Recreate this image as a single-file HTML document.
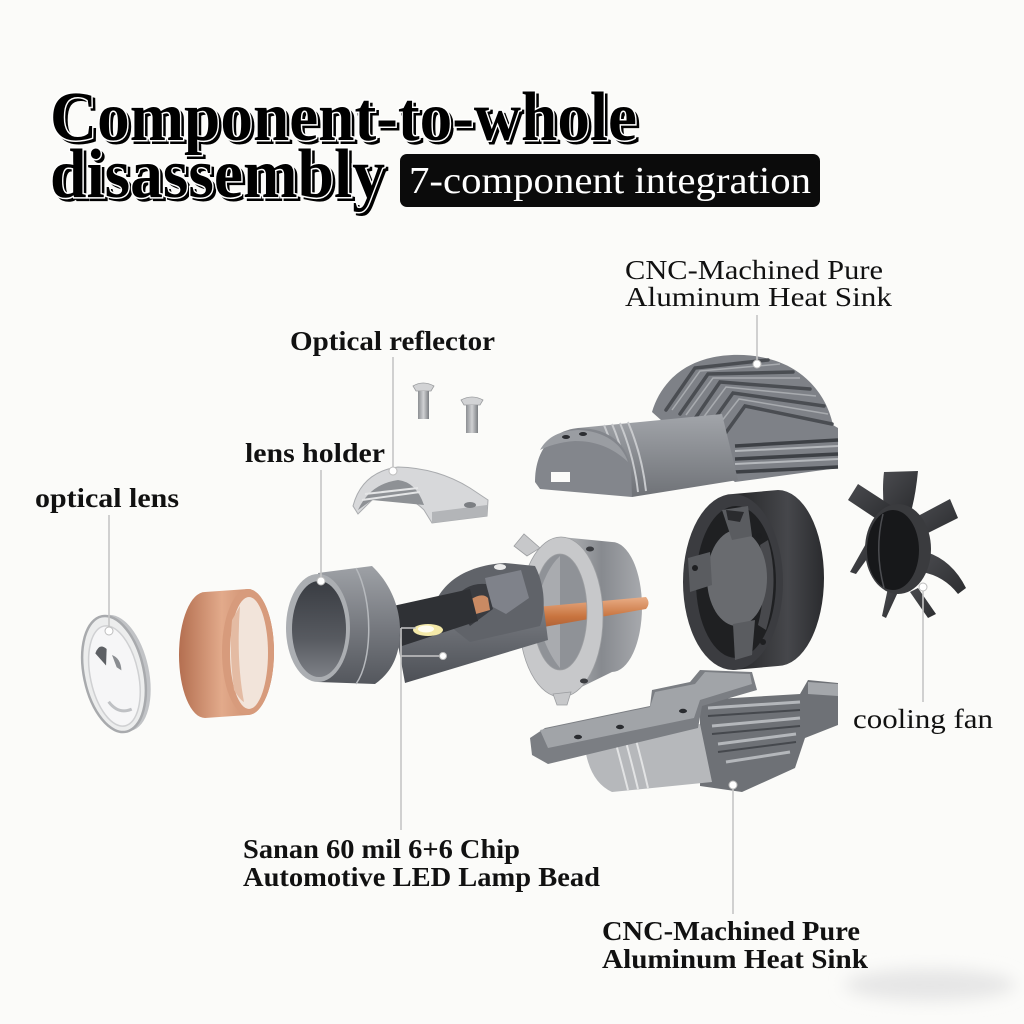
<!DOCTYPE html>
<html><head><meta charset="utf-8">
<style>
html,body{margin:0;padding:0;background:#fbfbf9;}
svg{display:block;}
text{font-family:"Liberation Serif","DejaVu Serif",serif;}
</style></head><body>
<svg width="1024" height="1024" viewBox="0 0 1024 1024" xmlns="http://www.w3.org/2000/svg">
<defs>
 <linearGradient id="cu" x1="0" y1="0" x2="1" y2="0">
  <stop offset="0" stop-color="#b46f50"/><stop offset="0.45" stop-color="#e2aa8b"/><stop offset="1" stop-color="#c07d5d"/>
 </linearGradient>
 <linearGradient id="cuv" x1="0" y1="0" x2="0" y2="1">
  <stop offset="0" stop-color="#e9ad86"/><stop offset="0.5" stop-color="#c8743f"/><stop offset="1" stop-color="#9c5330"/>
 </linearGradient>
 <linearGradient id="gv" x1="0" y1="0" x2="0" y2="1">
  <stop offset="0" stop-color="#8f9298"/><stop offset="0.5" stop-color="#6c6f75"/><stop offset="1" stop-color="#4d5056"/>
 </linearGradient>
 <linearGradient id="gh" x1="0" y1="0" x2="0" y2="1">
  <stop offset="0" stop-color="#9ea1a6"/><stop offset="0.55" stop-color="#74777d"/><stop offset="1" stop-color="#54575d"/>
 </linearGradient>
 <linearGradient id="din" x1="0" y1="0" x2="0" y2="1">
  <stop offset="0" stop-color="#393c42"/><stop offset="0.6" stop-color="#575a60"/><stop offset="1" stop-color="#7d8086"/>
 </linearGradient>
 <linearGradient id="ringb" x1="0" y1="0" x2="1" y2="0">
  <stop offset="0" stop-color="#b5b7ba"/><stop offset="0.5" stop-color="#878a8f"/><stop offset="1" stop-color="#a7a9ad"/>
 </linearGradient>
 <linearGradient id="hsb" x1="0" y1="0" x2="0" y2="1">
  <stop offset="0" stop-color="#a2a5aa"/><stop offset="1" stop-color="#6f7277"/>
 </linearGradient>
 <linearGradient id="fanside" x1="0" y1="0" x2="1" y2="0">
  <stop offset="0" stop-color="#252628"/><stop offset="0.6" stop-color="#46474b"/><stop offset="1" stop-color="#2a2b2e"/>
 </linearGradient>
 <linearGradient id="screw" x1="0" y1="0" x2="1" y2="0">
  <stop offset="0" stop-color="#8c8f93"/><stop offset="0.5" stop-color="#d0d1d3"/><stop offset="1" stop-color="#7b7e82"/>
 </linearGradient>
 <linearGradient id="blade" x1="0" y1="0" x2="1" y2="1">
  <stop offset="0" stop-color="#4a4b4f"/><stop offset="1" stop-color="#2c2d30"/>
 </linearGradient>
 <filter id="blur" x="-50%" y="-50%" width="200%" height="200%"><feGaussianBlur stdDeviation="8"/></filter>
</defs>

<rect width="1024" height="1024" fill="#fbfbf9"/>
<ellipse cx="930" cy="985" rx="85" ry="16" fill="#e6e6e6" filter="url(#blur)"/>

<!-- Title -->
<g font-weight="bold" font-size="70">
 <text x="53" y="143" fill="#000" stroke="#000" stroke-width="2" textLength="587" lengthAdjust="spacingAndGlyphs">Component-to-whole</text>
 <text x="50" y="140" fill="#000" stroke="#fff" stroke-width="3" paint-order="stroke" textLength="587" lengthAdjust="spacingAndGlyphs">Component-to-whole</text>
 <text x="53" y="200" fill="#000" stroke="#000" stroke-width="2" textLength="335" lengthAdjust="spacingAndGlyphs">disassembly</text>
 <text x="50" y="197" fill="#000" stroke="#fff" stroke-width="3" paint-order="stroke" textLength="335" lengthAdjust="spacingAndGlyphs">disassembly</text>
</g>
<rect x="400" y="154" width="420" height="53" rx="7" fill="#0b0b0b"/>
<text x="409" y="193" font-size="38" fill="#fff" textLength="402" lengthAdjust="spacingAndGlyphs">7-component integration</text>

<!-- Upper heat sink -->
<g>
 <path d="M652 412 C660 385 680 365 710 358 C735 352 770 354 795 370 C815 383 828 402 833 425 L838 428 L838 468 L735 482 L700 455 Z" fill="#7e8187"/>
 <g stroke="#4a4d52" stroke-width="3.5" fill="none" stroke-linecap="round">
  <path d="M666 410 L695 368 L768 360"/>
  <path d="M680 414 L708 374 L793 372"/>
  <path d="M694 420 L720 382 L810 389"/>
  <path d="M708 428 L733 393 L824 406"/>
  <path d="M722 438 L745 406 L832 424"/>
 </g>
 <g stroke="#a8abaf" stroke-width="1.5" fill="none">
  <path d="M672 410 L700 371 L780 364"/>
  <path d="M686 415 L713 378 L800 378"/>
  <path d="M700 422 L726 387 L816 396"/>
  <path d="M714 431 L739 399 L828 414"/>
 </g>
 <g stroke="#3d4045" stroke-width="3.5" fill="none">
  <path d="M735 446 L838 440"/>
  <path d="M735 459 L838 454"/>
  <path d="M735 472 L838 467"/>
 </g>
 <g stroke="#b5b8bc" stroke-width="2" fill="none">
  <path d="M735 451 L838 446"/>
  <path d="M735 464 L838 459"/>
 </g>
 <path d="M578 428 L722 414 L738 480 L632 497 Z" fill="url(#hsb)"/>
 <g stroke="#c8cacd" stroke-width="2" fill="none">
  <path d="M604 425 Q618 458 622 494"/>
  <path d="M612 424 Q626 457 630 493"/>
  <path d="M620 423 Q634 456 638 492"/>
  <path d="M628 422 Q642 455 646 491"/>
 </g>
 <path d="M535 482 C535 452 550 431 578 428 C610 428 628 445 631 470 L632 497 L540 489 Z" fill="#83868c"/>
 <path d="M540 450 C548 436 560 431 578 430 C605 431 622 444 628 462 C612 447 595 441 575 441 C560 442 548 446 540 450 Z" fill="#9a9da2"/>
 <rect x="551" y="472" width="19" height="10" fill="#fbfbf9"/>
 <ellipse cx="566" cy="437" rx="4" ry="2" fill="#2c2e32"/>
 <ellipse cx="583" cy="434" rx="4" ry="2" fill="#2c2e32"/>
</g>

<!-- Screws -->
<path d="M413 386 Q423 380 434 386 L431 391 L416 391 Z" fill="#d2d3d5" stroke="#9a9c9f" stroke-width="0.8"/>
<rect x="418" y="391" width="11" height="28" fill="url(#screw)"/>
<path d="M461 400 Q472 394 483 400 L480 405 L464 405 Z" fill="#d2d3d5" stroke="#9a9c9f" stroke-width="0.8"/>
<rect x="466" y="405" width="12" height="28" fill="url(#screw)"/>

<!-- Reflector -->
<path d="M353 506 Q362 472 398 467 Q438 468 470 488 L488 500 L487 516 L432 523 L424 510 Q402 488 372 500 L358 514 Z" fill="#d7d8da" stroke="#a9abae" stroke-width="1"/>
<path d="M358 510 Q370 484 398 480 Q416 482 424 505 L372 500 Z" fill="#8e9195"/>
<path d="M362 500 L420 492 M365 494 L418 488" stroke="#e4e5e6" stroke-width="2"/>
<path d="M432 512 L487 505 L487 516 L432 523 Z" fill="#b3b5b8"/>
<ellipse cx="470" cy="505" rx="6" ry="3" fill="#7c7f83"/>

<!-- Optical lens -->
<g transform="rotate(-12 114 674)">
 <ellipse cx="119" cy="674" rx="30" ry="59" fill="#c1c3c6"/>
 <ellipse cx="114" cy="674" rx="30" ry="59" fill="#eceded" stroke="#a8aaad" stroke-width="2.5"/>
 <ellipse cx="114" cy="676" rx="24" ry="51" fill="#f6f6f7" stroke="#cfd0d2" stroke-width="1.5"/>
 <path d="M100 650 Q106 640 112 648 L108 664 Z" fill="#5d6064"/>
 <path d="M116 655 Q124 660 122 672 L118 668 Z" fill="#8a8d91"/>
 <path d="M103 700 Q110 715 124 712" stroke="#bfc1c4" stroke-width="3" fill="none"/>
</g>

<!-- Copper ring -->
<path d="M205 592 L248 589 A26 63 0 0 1 248 715 L205 718 A26 63 0 0 1 205 592 Z" fill="url(#cu)"/>
<ellipse cx="248" cy="652" rx="26" ry="63" fill="#d79b7c"/>
<ellipse cx="249" cy="653" rx="19" ry="56" fill="#f2e4da"/>
<path d="M232 620 Q229 653 234 690 Q240 700 244 702 Q236 660 240 606 Z" fill="#e4bba3"/>

<!-- Twist lock ring -->
<path d="M561 537 L612 542 A30 65 0 0 1 612 672 L561 697 Z" fill="url(#ringb)"/>
<ellipse cx="560" cy="612" rx="27" ry="58" fill="#8f9297"/>
<path d="M538 600 Q545 570 560 556 L560 668 Q545 650 538 620 Z" fill="#a9abaf"/>
<path d="M482 612 L646 597 Q651 603 646 609 L492 636 Z" fill="url(#cuv)"/>
<path d="M527 556 L514 546 L524 534 L540 548 Z" fill="#c7c8ca" stroke="#9c9ea1" stroke-width="0.8"/>
<path fill-rule="evenodd" d="M519 617 A42 80 0 1 0 603 617 A42 80 0 1 0 519 617 Z M533 612 A27 58 0 1 0 587 612 A27 58 0 1 0 533 612 Z" fill="#c7c8ca" stroke="#9c9ea1" stroke-width="0.8"/>
<path d="M553 694 L571 692 L567 705 L557 705 Z" fill="#c7c8ca" stroke="#9c9ea1" stroke-width="0.8"/>
<ellipse cx="590" cy="549" rx="4" ry="2.5" fill="#3a3c40"/>
<ellipse cx="584" cy="681" rx="4" ry="2.5" fill="#3a3c40"/>

<!-- Central tube -->
<path d="M392 612 L540 578 L548 640 L405 683 Z" fill="url(#gv)"/>
<path d="M432 612 C440 580 470 565 505 563 L535 566 C545 585 546 610 540 626 L470 642 Z" fill="#606369"/>
<path d="M485 578 L521 570 L529 598 L506 614 L491 606 Z" fill="#7f828a"/>
<path d="M452 602 Q465 582 486 584 L493 609 L470 626 Z" fill="#393b40"/>
<path d="M470 600 Q482 592 488 598 L490 610 L476 614 Z" fill="#c98a63"/>
<ellipse cx="500" cy="567" rx="6" ry="3" fill="#ececec"/>
<path d="M393 606 L470 589 L478 621 L402 646 Z" fill="#2f3135"/>
<ellipse cx="428" cy="630" rx="15" ry="6" fill="#f4e9a8"/>
<ellipse cx="426" cy="629" rx="8" ry="3.5" fill="#fffdf0"/>

<!-- Lens holder -->
<path d="M318 573 L372 566 C392 585 400 610 400 630 C400 655 392 672 375 684 L318 682 Z" fill="url(#gh)"/>
<path d="M356 568 C373 600 373 660 356 684" stroke="#b6b9bd" stroke-width="1.5" fill="none"/>
<ellipse cx="318" cy="628" rx="32" ry="54" fill="#abaeb2"/>
<ellipse cx="319" cy="629" rx="27" ry="48" fill="url(#din)"/>

<!-- Fan housing -->
<path d="M733 494 L778 490 A46 88 0 0 1 778 666 L733 670 Z" fill="url(#fanside)"/>
<ellipse cx="733" cy="582" rx="50" ry="88" fill="#3b3c40"/>
<ellipse cx="736" cy="582" rx="40" ry="76" fill="#1f2022"/>
<path d="M768 540 Q780 582 766 630 L758 625 Q768 585 760 545 Z" fill="#48494d"/>
<ellipse cx="737" cy="578" rx="30" ry="48" fill="#696b6f"/>
<path d="M722 510 L748 506 L752 536 L732 540 Z" fill="#5a5c60"/>
<path d="M726 510 L744 512 L740 522 L728 520 Z" fill="#2a2b2e"/>
<path d="M688 558 L710 552 L712 585 L690 592 Z" fill="#5a5c60"/>
<path d="M733 624 L755 620 L752 655 L735 660 Z" fill="#5a5c60"/>
<circle cx="695" cy="568" r="3" fill="#1e1f21"/>
<circle cx="759" cy="536" r="3" fill="#1e1f21"/>
<circle cx="763" cy="642" r="3" fill="#1e1f21"/>

<!-- Fan blades -->
<g fill="url(#blade)">
 <path d="M884 510 Q882 488 884 472 L918 471 Q916 492 912 508 Z"/>
 <path d="M878 520 L848 500 L858 484 L892 506 Z"/>
 <path d="M918 516 L950 499 L958 518 L926 534 Z"/>
 <path d="M926 552 Q952 560 966 588 L958 594 Q944 576 922 572 Z"/>
 <path d="M918 588 L936 614 L928 618 L910 592 Z"/>
 <path d="M888 588 L882 616 L886 618 L898 592 Z"/>
 <path d="M868 540 L850 572 L856 574 L872 552 Z"/>
</g>
<ellipse cx="898" cy="549" rx="33" ry="45" fill="#3a3b3e"/>
<ellipse cx="893" cy="550" rx="26" ry="40" fill="#17181a"/>
<path d="M883 514 Q874 550 884 588" stroke="#4c4d51" stroke-width="1.5" fill="none"/>

<!-- Lower heat sink -->
<path d="M700 700 L800 694 L808 680 L838 683 L838 725 L805 738 L795 768 L742 792 L700 786 Z" fill="#6e7176"/>
<g stroke="#b4b7bb" stroke-width="3" fill="none">
 <path d="M708 708 L800 702"/>
 <path d="M712 726 L800 718"/>
 <path d="M718 744 L796 734"/>
 <path d="M726 762 L790 752"/>
</g>
<g stroke="#45484d" stroke-width="2" fill="none">
 <path d="M708 716 L800 710"/>
 <path d="M712 734 L800 726"/>
 <path d="M718 752 L796 742"/>
</g>
<path d="M808 682 L838 684 L838 696 L808 694 Z" fill="#a4a7ab"/>
<path d="M585 748 L700 724 L712 782 L612 792 Q590 782 585 748 Z" fill="#b6b8bb"/>
<g stroke="#e2e3e4" stroke-width="2" fill="none">
 <path d="M616 744 Q622 766 628 790"/>
 <path d="M626 742 Q632 764 638 789"/>
 <path d="M636 740 Q642 762 648 788"/>
</g>
<path d="M530 738 L545 728 L650 706 L652 690 L690 682 L700 670 L752 672 L757 690 L702 706 L698 728 L548 764 L532 755 Z" fill="#7b7e83"/>
<path d="M540 730 L650 707 L655 692 L695 684 L705 672 L750 674 L752 684 L700 700 L694 718 L548 748 Z" fill="#a1a4a8"/>
<ellipse cx="578" cy="737" rx="4" ry="2.2" fill="#2a2c30"/>
<ellipse cx="620" cy="727" rx="4" ry="2.2" fill="#2a2c30"/>
<ellipse cx="683" cy="711" rx="4" ry="2.2" fill="#2a2c30"/>

<!-- Leader lines -->
<g stroke="#c6c6c6" stroke-width="1.6" fill="none">
 <path d="M757 315 L757 362"/>
 <path d="M393 357 L393 470"/>
 <path d="M321 470 L321 580"/>
 <path d="M109 515 L109 630"/>
 <path d="M923 587 L923 702"/>
 <path d="M401 628 L401 830 M401 628 L416 628 M401 656 L443 656"/>
 <path d="M733 785 L733 914"/>
</g>
<g fill="#fff" stroke="#bdbdbd" stroke-width="1">
 <circle cx="757" cy="364" r="4"/>
 <circle cx="393" cy="471" r="4"/>
 <circle cx="321" cy="581" r="4"/>
 <circle cx="109" cy="631" r="4"/>
 <circle cx="923" cy="587" r="4"/>
 <circle cx="443" cy="656" r="3.5"/>
 <circle cx="733" cy="785" r="4"/>
</g>

<!-- Labels -->
<g font-size="27" fill="#111">
 <text x="625" y="279" textLength="258" lengthAdjust="spacingAndGlyphs">CNC-Machined Pure</text>
 <text x="625" y="306" textLength="267" lengthAdjust="spacingAndGlyphs">Aluminum Heat Sink</text>
 <text x="853" y="728" textLength="140" lengthAdjust="spacingAndGlyphs">cooling fan</text>
</g>
<g font-size="27" font-weight="bold" fill="#111">
 <text x="290" y="350" textLength="205" lengthAdjust="spacingAndGlyphs">Optical reflector</text>
 <text x="245" y="462" textLength="140" lengthAdjust="spacingAndGlyphs">lens holder</text>
 <text x="35" y="507" textLength="144" lengthAdjust="spacingAndGlyphs">optical lens</text>
 <text x="243" y="858" textLength="277" lengthAdjust="spacingAndGlyphs">Sanan 60 mil 6+6 Chip</text>
 <text x="243" y="886" textLength="357" lengthAdjust="spacingAndGlyphs">Automotive LED Lamp Bead</text>
 <text x="602" y="940" textLength="258" lengthAdjust="spacingAndGlyphs">CNC-Machined Pure</text>
 <text x="602" y="968" textLength="266" lengthAdjust="spacingAndGlyphs">Aluminum Heat Sink</text>
</g>
</svg>
</body></html>
